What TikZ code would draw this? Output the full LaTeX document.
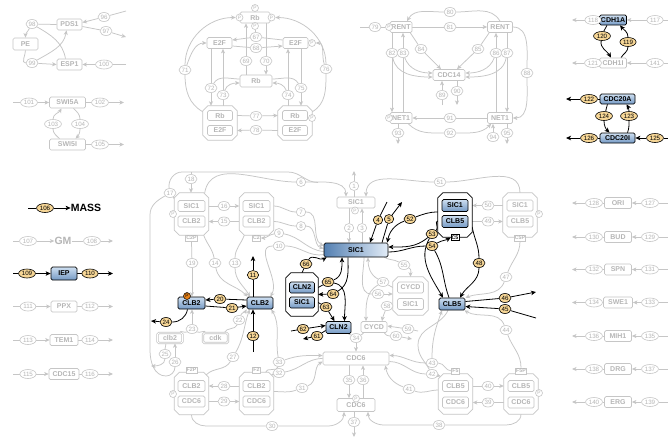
\documentclass[tikz,border=0pt]{standalone}
\usepackage{fontspec}
\setmainfont{Liberation Sans}
\usetikzlibrary{arrows.meta,shapes.geometric,calc}
\definecolor{fade}{RGB}{198,198,198}
\definecolor{fadeT}{RGB}{182,182,182}
\definecolor{yel}{RGB}{246,214,150}
\definecolor{bTop}{RGB}{206,223,241}
\definecolor{bBot}{RGB}{116,153,196}
\definecolor{bDark}{RGB}{84,128,178}
\definecolor{bLight}{RGB}{226,236,247}
\definecolor{orP}{RGB}{230,128,22}
\pgfdeclarelayer{bgw}
\pgfdeclarelayer{bg}
\pgfsetlayers{bgw,bg,main}
\newcommand\myNF{\fontsize{7}{8}\selectfont\bfseries}
\newcommand\myLF{\fontsize{6.2}{6.5}\selectfont}
\newcommand\myPF{\fontsize{4.8}{5}\selectfont}
\newcommand\mySF{\fontsize{5.2}{6}\selectfont\bfseries}
\newcommand\myBF{\fontsize{10.5}{12}\selectfont\bfseries}
\newcommand\gL[3]{\node[gl] (r#1) at (#2,#3) {#1};}
\newcommand\aL[3]{\node[al] (r#1) at (#2,#3) {#1};}
\newcommand\octa[6]{%
  \node[minimum width=#4pt,minimum height=#5pt,inner sep=0pt] (#1) at (#2,#3) {};
  \draw[draw=#6,line width=0.7pt,fill=white]
    ($(#1.north west)+(5pt,0pt)$) -- ($(#1.north east)+(-5pt,0pt)$) --
    ($(#1.north east)+(0pt,-5pt)$) -- ($(#1.south east)+(0pt,5pt)$) --
    ($(#1.south east)+(-5pt,0pt)$) -- ($(#1.south west)+(5pt,0pt)$) --
    ($(#1.south west)+(0pt,5pt)$) -- ($(#1.north west)+(0pt,-5pt)$) -- cycle;}
\tikzset{
  gb/.style={draw=fade,line width=0.7pt,rounded corners=1.5pt,text=fadeT,font=\myNF,inner sep=0pt,minimum height=11pt,fill=white},
  gdbl/.style={gb,double=white,double distance=0.8pt},
  ab/.style={draw=black,line width=0.7pt,rounded corners=1.5pt,top color=bTop,bottom color=bBot,font=\myNF,inner sep=0pt,minimum height=12pt},
  abh/.style={draw=black,line width=0.7pt,rounded corners=1.5pt,left color=bDark,right color=bLight,font=\myNF,inner sep=0pt},
  gl/.style={ellipse,draw=fade,line width=0.6pt,fill=white,text=fadeT,font=\myLF,inner xsep=0.8pt,inner ysep=0.2pt,minimum width=9.5pt,minimum height=9pt},
  al/.style={ellipse,draw=black,line width=0.6pt,fill=yel,font=\myLF,inner xsep=0.8pt,inner ysep=0.2pt,minimum width=9.5pt,minimum height=9pt},
  gp/.style={circle,draw=fade,line width=0.6pt,fill=white,text=fadeT,font=\myPF,inner sep=0pt,minimum size=7pt},
  glab/.style={draw=fade,line width=0.6pt,fill=white,text=fadeT,font=\mySF,inner sep=0.7pt,minimum height=6pt},
  alab/.style={draw=black,line width=0.6pt,fill=white,font=\mySF,inner sep=0.7pt,minimum height=6pt},
  gn/.style={draw=fade,line width=0.75pt},
  ga/.style={gn,-{Stealth[length=4.5pt,width=4pt,inset=1.2pt]}},
  an/.style={draw=black,line width=0.8pt},
  aa/.style={an,-{Stealth[length=5pt,width=4.5pt,inset=1.3pt]}}
}
\begin{document}
\begin{tikzpicture}[x=1pt,y=-1pt]
\begin{pgfonlayer}{bgw}
\fill[white] (0,0) rectangle (668,437);
\end{pgfonlayer}
\useasboundingbox (0,0) rectangle (668,437);

% ================= PE group
\node[gb,minimum width=25pt] (pds1) at (69.5,24.5) {PDS1};
\node[gb,minimum width=25pt,minimum height=12pt] (pe) at (25.5,44) {PE};
\node[gb,minimum width=25pt] (esp1) at (69.5,64.5) {ESP1};
\gL{98}{32}{24} \gL{99}{32}{63} \gL{96}{104}{17} \gL{97}{106}{31} \gL{100}{104}{64.5}
\coordinate (e96) at (126,11);
\coordinate (e97) at (126,37);
\coordinate (e100) at (126,64.5);

% ================= SWI5 group
\node[gb,minimum width=36pt] (swi5a) at (67.5,102.5) {SWI5A};
\node[gb,minimum width=36pt] (swi5i) at (67.5,144.5) {SWI5I};
\gL{101}{29}{102.5} \gL{102}{100}{102.5} \gL{103}{53}{124} \gL{104}{80}{124} \gL{105}{100}{144.5}
\coordinate (e101) at (13,102.5);
\coordinate (e102) at (124,102.5);
\coordinate (e105) at (124,144.5);

% ================= Rb group
\node[gb,minimum width=30pt] (rbt) at (255,17.5) {Rb};
\node[gp] (pRt) at (255,8) {P};
\node[gp] (pRl) at (239.5,17.5) {P};
\node[gp] (pRr) at (271.5,17.5) {P};
\node[gp] (pRb) at (255,26) {P};
\node[gb,minimum width=25pt] (e2fl) at (219.5,43) {E2F};
\node[gb,minimum width=25pt] (e2fr) at (295.5,43) {E2F};
\node[gp] (pE2) at (312,43) {P};
\node[gb,minimum width=32pt,minimum height=12pt] (rbm) at (256,81) {Rb};
\octa{cxl}{220}{123}{34}{34}{fade}
\node[gb,minimum width=25pt,minimum height=10pt] (rbl1) at (220,115.5) {Rb};
\node[gb,minimum width=25pt,minimum height=10pt] (e2fl1) at (220,130.5) {E2F};
\octa{cxr}{295}{123}{34}{34}{fade}
\node[gb,minimum width=25pt,minimum height=10pt] (rbr1) at (295,115.5) {Rb};
\node[gb,minimum width=25pt,minimum height=10pt] (e2fr1) at (295,130.5) {E2F};
\node[gp] (pCx) at (312,118) {P};
\gL{67}{256}{37} \gL{68}{256}{48} \gL{69}{246}{61} \gL{70}{266}{61} \gL{71}{185}{70}
\gL{72}{211}{88} \gL{73}{223}{95} \gL{74}{288}{95} \gL{75}{301}{88} \gL{76}{326}{69}
\gL{77}{256}{116} \gL{78}{256}{130}

% ================= RENT group
\node[gb,minimum width=22pt] (rentl) at (401,27) {RENT};
\node[gp] (pRl2) at (389,27) {P};
\node[gb,minimum width=25pt] (rentr) at (500,27) {RENT};
\node[gb,minimum width=32pt] (cdc14) at (449,75) {CDC14};
\node[gb,minimum width=22pt] (net1l) at (401,118) {NET1};
\node[gp] (pN) at (389,118) {P};
\node[gb,minimum width=25pt] (net1r) at (500,118) {NET1};
\gL{79}{375}{27} \gL{80}{450}{12} \gL{81}{450}{27} \gL{82}{392}{53} \gL{83}{403}{53}
\gL{84}{421}{49} \gL{85}{478}{49} \gL{86}{496}{53} \gL{87}{507}{53} \gL{88}{527}{73}
\gL{89}{442}{95} \gL{90}{457}{91} \gL{91}{450}{118} \gL{92}{450}{133} \gL{93}{398}{133}
\gL{94}{493}{137} \gL{95}{507}{133}
\coordinate (e79) at (360,27);
\coordinate (e89) at (442,105);
\coordinate (e90) at (457,105);
\coordinate (e93) at (398,144);
\coordinate (e95) at (507,144);

% ================= CDH1 / CDC20
\node[ab,minimum width=27pt,minimum height=10pt] (cdh1a) at (613,20) {CDH1A};
\node[gb,minimum width=27pt,minimum height=10pt] (cdh1i) at (613,63) {CDH1I};
\gL{117}{655}{20} \gL{118}{593}{20} \aL{120}{602}{36} \aL{119}{628}{42}
\gL{121}{593}{63} \gL{141}{655}{63}
\node[ab,minimum width=35pt,minimum height=10pt] (cdc20a) at (617.5,99) {CDC20A};
\node[ab,minimum width=35pt,minimum height=10pt] (cdc20i) at (617.5,138) {CDC20I};
\aL{122}{589}{99} \aL{124}{604}{116} \aL{123}{629}{116} \aL{126}{589}{138} \aL{125}{655}{138}
\coordinate (e117) at (668,20);
\coordinate (e118) at (572,20);
\coordinate (e121) at (572,63);
\coordinate (e141) at (668,63);
\coordinate (e122) at (566,99);
\coordinate (e126) at (566,138);
\coordinate (e125) at (668,138);

% ================= left column
\aL{106}{45}{208}
\node[font=\myBF,inner sep=0pt] (mass) at (86,208) {MASS};
\gL{107}{28}{241}
\node[font=\myBF,text=fadeT,inner sep=0pt] (gm) at (63,241) {GM};
\gL{108}{92}{241}
\aL{109}{27}{273.5}
\node[ab,minimum width=26pt,minimum height=13pt] (iep) at (64,273.5) {IEP};
\aL{110}{90}{273.5}
\coordinate (e106) at (28,208);
\coordinate (e107) at (13,241);
\coordinate (e108) at (113,241);
\coordinate (e109) at (13,273.5);
\coordinate (e110) at (113,273.5);
\foreach \nm/\yy/\lbl/\rbl/\ww in {PPX/306.5/111/112/26, TEM1/340/113/114/28, CDC15/374/115/116/30}{
  \node[gb,minimum width=\ww pt] (\nm) at (64,\yy) {\nm};
  \gL{\lbl}{28}{\yy}
  \gL{\rbl}{90}{\yy}
  \coordinate (in\nm) at (13,\yy);
  \coordinate (out\nm) at (113,\yy);
}

% ================= right column
\foreach \nm/\yy/\lbl/\rbl/\ww in {ORI/203/128/127/27, BUD/237/130/129/27, SPN/269.5/132/131/27, SWE1/302.5/134/133/29, MIH1/336/136/135/27, DRG/369/138/137/27, ERG/402/140/139/27}{
  \node[gb,minimum width=\ww pt] (\nm) at (618,\yy) {\nm};
  \gL{\lbl}{594}{\yy}
  \gL{\rbl}{650}{\yy}
  \coordinate (in\nm) at (668,\yy);
  \coordinate (out\nm) at (572,\yy);
}

% ================= centre: complexes and boxes
\octa{cxA}{191.5}{214}{34}{42}{fade}
\node[gb,minimum width=27pt] (sic1A) at (191.5,206) {SIC1};
\node[gb,minimum width=27pt] (clb2A) at (191.5,221.5) {CLB2};
\node[glab] (c2p) at (191.5,238) {C2P};
\node[gp] (pA) at (173,214) {P};
\octa{cxB}{256.5}{214}{34}{42}{fade}
\node[gb,minimum width=27pt] (sic1B) at (256.5,206) {SIC1};
\node[gb,minimum width=27pt] (clb2B) at (256.5,221.5) {CLB2};
\node[glab] (c2) at (256.5,238) {C2};

\node[gb,minimum width=38pt] (sic1g) at (356,202.5) {SIC1};
\node[gp] (pS) at (355,210.5) {P};
\node[abh,minimum width=64pt,minimum height=14pt] (sic1) at (356,250) {SIC1};

\octa{cxC}{455}{215}{34}{44}{black}
\node[ab,minimum width=26pt] (sic1C) at (455,205.5) {SIC1};
\node[ab,minimum width=26pt] (clb5C) at (455,221.5) {CLB5};
\node[alab] (c5) at (455,237.5) {C5};
\octa{cxD}{520}{215}{34}{44}{fade}
\node[gb,minimum width=26pt] (sic1D) at (520,205.5) {SIC1};
\node[gb,minimum width=26pt] (clb5D) at (520,221.5) {CLB5};
\node[glab] (c5p) at (520,238) {C5P};
\node[gp] (pD) at (539,214) {P};

\octa{cxE}{302}{294.5}{32}{43}{black}
\node[ab,minimum width=25pt,minimum height=11pt] (cln2E) at (302,287.5) {CLN2};
\node[ab,minimum width=25pt,minimum height=11pt] (sic1E) at (302,302.5) {SIC1};

\octa{cxF}{410.5}{296}{35}{38}{fade}
\node[gb,minimum width=26pt] (cycdF) at (410.5,287.5) {CYCD};
\node[gb,minimum width=26pt] (sic1F) at (410.5,304) {SIC1};

\node[ab,minimum width=25pt] (cln2) at (338.5,327.5) {CLN2};
\node[gb,minimum width=26pt] (cycd) at (374,327) {CYCD};
\node[ab,minimum width=26pt] (clb5) at (452,304) {CLB5};
\node[ab,minimum width=27pt] (clb2L) at (191.5,303) {CLB2};
\node[circle,fill=orP,draw=black,line width=0.5pt,inner sep=0pt,minimum size=7pt,font=\myPF] (pO) at (187,296) {P};
\node[ab,minimum width=26pt] (clb2R) at (260,303) {CLB2};
\node[gdbl,minimum width=25pt,minimum height=10pt] (clb2g) at (170,338) {clb2};
\node[gdbl,minimum width=25pt,minimum height=10pt] (cdk) at (215.5,338) {cdk};
\node[gb,minimum width=66pt,minimum height=13pt] (cdc6) at (356,358.5) {CDC6};
\node[gb,minimum width=38pt,minimum height=13pt] (cdc6s) at (356,405) {CDC6};
\node[gp] (pC6) at (356,398.5) {P};

\octa{cxG}{191.5}{393.5}{34}{42}{fade}
\node[glab] (f2p) at (191.5,370) {F2P};
\node[gb,minimum width=27pt] (clb2G) at (191.5,386) {CLB2};
\node[gb,minimum width=27pt] (cdc6G) at (191.5,401.5) {CDC6};
\node[gp] (pG) at (173,394) {P};
\octa{cxH}{256.5}{393.5}{34}{42}{fade}
\node[glab] (f2) at (256.5,370) {F2};
\node[gb,minimum width=27pt] (clb2H) at (256.5,386) {CLB2};
\node[gb,minimum width=27pt] (cdc6H) at (256.5,401.5) {CDC6};
\octa{cxI}{455.5}{394}{34}{40}{fade}
\node[glab] (f5) at (455.5,371) {F5};
\node[gb,minimum width=26pt] (clb5I) at (455.5,386) {CLB5};
\node[gb,minimum width=26pt] (cdc6I) at (455.5,402.5) {CDC6};
\octa{cxJ}{521}{394}{34}{40}{fade}
\node[glab] (f5p) at (521,371) {F5P};
\node[gb,minimum width=26pt] (clb5J) at (521,386) {CLB5};
\node[gb,minimum width=26pt] (cdc6J) at (521,402.5) {CDC6};
\node[gp] (pJ) at (539,393) {P};

% ================= centre labels
\gL{1}{354}{186} \gL{2}{349}{228} \gL{3}{362}{228} \aL{4}{378}{220} \aL{5}{389}{219}
\gL{6}{301}{182} \gL{7}{301}{212} \gL{8}{301}{226} \gL{9}{279}{233} \gL{10}{279}{246}
\aL{11}{253}{275} \aL{12}{253}{336} \gL{13}{235}{263} \gL{14}{215}{263} \gL{15}{224}{221.5}
\gL{16}{224}{206} \gL{17}{170}{193} \gL{18}{191}{179} \gL{19}{192}{263} \aL{20}{220}{299}
\aL{21}{232}{308} \gL{22}{239}{320} \gL{23}{192}{329} \aL{24}{166}{322} \gL{25}{165}{354}
\gL{26}{175}{362} \gL{27}{233}{357} \gL{28}{224}{386} \gL{29}{224}{401.5} \gL{30}{272}{426}
\gL{31}{302}{388} \gL{32}{279}{373} \gL{33}{279}{362} \gL{34}{356}{338} \gL{35}{349}{380}
\gL{36}{363}{380} \gL{37}{354}{422} \gL{38}{439}{425} \gL{39}{488}{402.5} \gL{40}{488}{386}
\gL{41}{409}{389} \gL{42}{432}{374} \gL{43}{432}{363} \gL{44}{506}{330} \aL{45}{505}{309}
\aL{46}{505}{298} \gL{47}{506}{277} \aL{48}{479}{263} \gL{49}{488}{221.5} \gL{50}{488}{205.5}
\gL{51}{440}{182} \aL{52}{410}{219} \aL{53}{432}{234} \aL{54}{432}{246} \gL{55}{404}{265}
\gL{56}{378}{294} \gL{57}{383}{282} \gL{58}{387}{306} \gL{59}{408}{329} \gL{60}{396}{336}
\aL{61}{317}{336} \aL{62}{303}{329} \aL{63}{326}{307} \aL{64}{333}{294} \aL{65}{328}{282}
\aL{66}{306}{264}

\coordinate (e1) at (354,171);
\coordinate (e4) at (387,202);
\coordinate (e5) at (402,202);
\coordinate (e11) at (253,256);
\coordinate (e12) at (253,352);
\coordinate (e24) at (151,321);
\coordinate (e25) at (151,366);
\coordinate (e37) at (354,437);
\coordinate (e45) at (536,318);
\coordinate (e46) at (536,292);
\coordinate (e59) at (418,331);
\coordinate (e60) at (412,339);
\coordinate (e61) at (303,339);
\coordinate (e62) at (291,331);
\coordinate (j18) at (191,172);
\coordinate (jTa) at (182,172);
\coordinate (jTb) at (288,172);
\coordinate (jTc) at (318,182.5);
\coordinate (jLa) at (150,215);
\coordinate (jLb) at (150,350);
\coordinate (jLc) at (166,376);
\coordinate (j30a) at (206,426);
\coordinate (j30b) at (328,426);
\coordinate (j38a) at (506,425);
\coordinate (j38b) at (384,425);
\coordinate (j42) at (418,345);

% ================= connectors
\begin{pgfonlayer}{bg}
% PE
\draw[gn] (e96) -- (r96);
\draw[ga] (r96) -- ([yshift=2pt]pds1.east);
\draw[gn] ([yshift=-2pt]pds1.east) -- (r97);
\draw[ga] (r97) -- (e97);
\draw[gn] (e100) -- (r100);
\draw[ga] (r100) -- (esp1.east);
\draw[gn] (pds1.west) -- (r98);
\draw[ga] (r98) to[out=-120,in=90] (pe.north);
\draw[gn] (r98) to[out=-30,in=100] ([xshift=-4pt]esp1.north);
\draw[gn] (pe.south) to[out=-90,in=180] (r99);
\draw[ga] (r99) -- (esp1.west);
\draw[ga] (r99) to[out=30,in=-100] ([xshift=-3pt]pds1.south);
% SWI5
\draw[gn] (e101) -- (r101);
\draw[ga] (r101) -- (swi5a);
\draw[gn] (swi5a) -- (r102);
\draw[ga] (r102) -- (e102);
\draw[gn] (swi5i) -- (r105);
\draw[ga] (r105) -- (e105);
\draw[gn] ([xshift=-8pt]swi5i.north) to[out=135,in=-90] (r103);
\draw[ga] (r103) to[out=90,in=-120] ([xshift=-6pt]swi5a.south);
\draw[gn] ([xshift=6pt]swi5a.south) to[out=-45,in=90] (r104);
\draw[ga] (r104) to[out=-90,in=45] ([xshift=8pt]swi5i.north);
% Rb
\draw[gn] (pRb) -- (r67);
\draw[gn] ([yshift=3pt]e2fr.west) -- (r67);
\draw[ga] (r67) -- ([yshift=3pt]e2fl.east);
\draw[gn] ([yshift=-3pt]e2fl.east) -- (r68);
\draw[ga] (r68) -- ([yshift=-3pt]e2fr.west);
\draw[gn] (r69 |- rbm.north) -- (r69);
\draw[ga] (r69) -- (r69 |- rbt.south);
\draw[gn] (r70 |- rbt.south) -- (r70);
\draw[ga] (r70) -- (r70 |- rbm.north);
\draw[gn] ([yshift=-6pt]cxl.north west) to[out=150,in=-90] (r71);
\draw[ga] (r71) to[out=90,in=180] (pRl);
\draw[ga] (r71) to[out=70,in=180] (e2fl.west);
\draw[gn] ([yshift=-6pt]cxr.north east) to[out=30,in=-90] (r76);
\draw[ga] (r76) to[out=90,in=0] (pRr);
\draw[ga] (r76) to[out=110,in=0] (pE2);
\draw[gn] (r72 |- e2fl.south) -- (r72);
\draw[ga] (r72) -- (r72 |- cxl.north);
\draw[gn] ([yshift=2pt]rbm.west) to[out=180,in=60] (r72);
\draw[gn] (r73 |- cxl.north) -- (r73);
\draw[ga] (r73) -- (r73 |- e2fl.south);
\draw[ga] (r73) to[out=70,in=180] ([yshift=-2pt]rbm.west);
\draw[gn] (r74 |- cxr.north) -- (r74);
\draw[ga] (r74) -- (r74 |- e2fr.south);
\draw[ga] (r74) to[out=110,in=0] ([yshift=-2pt]rbm.east);
\draw[gn] (r75 |- e2fr.south) -- (r75);
\draw[ga] (r75) -- (r75 |- cxr.north);
\draw[gn] ([yshift=2pt]rbm.east) to[out=0,in=120] (r75);
\draw[gn] (cxl.east |- rbl1) -- (r77);
\draw[ga] (r77) -- (cxr.west |- rbr1);
\draw[gn] (cxr.west |- e2fr1) -- (r78);
\draw[ga] (r78) -- (cxl.east |- e2fl1);
% RENT
\draw[gn] (e79) -- (r79) -- (pRl2);
\draw[gn] (rentr.north) to[out=120,in=0] (r80);
\draw[ga] (r80) to[out=180,in=60] ([xshift=6pt]rentl.north);
\draw[gn] (rentl) -- (r81);
\draw[ga] (r81) -- (rentr);
\draw[gn] (r82 |- rentl.south) -- (r82);
\draw[ga] (r82) -- (r82 |- net1l.north);
\draw[ga] (r82) to[out=-80,in=180] ([yshift=-2pt]cdc14.west);
\draw[gn] (r83 |- net1l.north) -- (r83);
\draw[ga] (r83) -- (r83 |- rentl.south);
\draw[ga] (r83) to[out=-70,in=180] ([yshift=2pt]cdc14.west);
\draw[gn] ([xshift=-2pt]rentl.south east) -- (r84);
\draw[ga] (r84) -- ([xshift=-8pt]cdc14.north);
\draw[gn] ([xshift=2pt]rentr.south west) -- (r85);
\draw[ga] (r85) -- ([xshift=8pt]cdc14.north);
\draw[gn] (r86 |- net1r.north) -- (r86);
\draw[ga] (r86) -- (r86 |- rentr.south);
\draw[ga] (r86) to[out=-110,in=0] ([yshift=2pt]cdc14.east);
\draw[gn] (r87 |- rentr.south) -- (r87);
\draw[ga] (r87) -- (r87 |- net1r.north);
\draw[ga] (r87) to[out=-100,in=0] ([yshift=-2pt]cdc14.east);
\draw[gn] (rentr.east) to[out=0,in=90] (r88);
\draw[ga] (r88) to[out=-90,in=0] (net1r.east);
\draw[gn] (e89) -- (r89);
\draw[ga] (r89) -- (r89 |- cdc14.south);
\draw[gn] (r90 |- cdc14.south) -- (r90);
\draw[ga] (r90) -- (e90);
\draw[gn] (net1r) -- (r91);
\draw[ga] (r91) -- (net1l);
\draw[gn] ([xshift=-4pt]net1l.south east) to[out=-45,in=180] (r92);
\draw[ga] (r92) to[out=0,in=-135] ([xshift=4pt]net1r.south west);
\draw[gn] (r93 |- net1l.south) -- (r93);
\draw[ga] (r93) -- (e93);
\draw[ga] (r94) -- (r94 |- net1r.south);
\draw[gn] (r95 |- net1r.south) -- (r95);
\draw[ga] (r95) -- (e95);
% CDH1 / CDC20
\draw[gn] (e117) -- (r117);
\draw[ga] (r117) -- (cdh1a);
\draw[gn] (cdh1a) -- (r118);
\draw[ga] (r118) -- (e118);
\draw[an] ([xshift=-6pt]cdh1a.south) to[out=-120,in=70] (r120);
\draw[aa] (r120) to[out=-100,in=120] ([xshift=-2pt]cdh1i.north);
\draw[an] ([xshift=8pt]cdh1i.north) to[out=60,in=-90] (r119);
\draw[aa] (r119) to[out=90,in=-50] ([xshift=7pt]cdh1a.south);
\draw[gn] (cdh1i) -- (r121);
\draw[ga] (r121) -- (e121);
\draw[gn] (e141) -- (r141);
\draw[ga] (r141) -- (cdh1i);
\draw[an] (cdc20a) -- (r122);
\draw[aa] (r122) -- (e122);
\draw[an] ([xshift=-10pt]cdc20a.south) to[out=-120,in=70] (r124);
\draw[aa] (r124) to[out=-90,in=135] ([xshift=-8pt]cdc20i.north);
\draw[an] ([xshift=10pt]cdc20i.north) to[out=70,in=-90] (r123);
\draw[aa] (r123) to[out=90,in=-60] ([xshift=9pt]cdc20a.south);
\draw[an] (cdc20i) -- (r126);
\draw[aa] (r126) -- (e126);
\draw[an] (e125) -- (r125);
\draw[aa] (r125) -- (cdc20i);
% left column
\draw[an] (e106) -- (r106);
\draw[aa] (r106) -- (mass.west);
\draw[gn] (e107) -- (r107);
\draw[ga] (r107) -- (gm.west);
\draw[gn] (gm.east) -- (r108);
\draw[ga] (r108) -- (e108);
\draw[an] (e109) -- (r109);
\draw[aa] (r109) -- (iep);
\draw[an] (iep) -- (r110);
\draw[aa] (r110) -- (e110);
\foreach \nm/\lbl/\rbl in {PPX/111/112, TEM1/113/114, CDC15/115/116}{
  \draw[gn] (in\nm) -- (r\lbl);
  \draw[ga] (r\lbl) -- (\nm);
  \draw[gn] (\nm) -- (r\rbl);
  \draw[ga] (r\rbl) -- (out\nm);
}
\foreach \nm/\lbl/\rbl in {ORI/128/127, BUD/130/129, SPN/132/131, SWE1/134/133, MIH1/136/135, DRG/138/137, ERG/140/139}{
  \draw[gn] (in\nm) -- (r\rbl);
  \draw[ga] (r\rbl) -- (\nm);
  \draw[gn] (\nm) -- (r\lbl);
  \draw[ga] (r\lbl) -- (out\nm);
}
% centre gray
\draw[gn] (r1 |- sic1g.north) -- (r1);
\draw[ga] (r1) -- (e1);
\draw[gn] (r2 |- sic1g.south) -- (r2);
\draw[ga] (r2) -- (r2 |- sic1.north);
\draw[gn] (r3 |- sic1.north) -- (r3);
\draw[ga] (r3) -- (r3 |- sic1g.south);
\draw[gn] ([xshift=-4pt]cxA.north east) to[out=80,in=180] (r6);
\draw[ga] (r6) to[out=0,in=90] ([xshift=-10pt]sic1g.north);
\draw[gn] (r17) to[out=100,in=180] (jTa) -- (jTb) to[out=0,in=180] (jTc);
\draw[gn] (j18) -- (r18);
\draw[ga] (r18) -- (r18 |- cxA.north);
\draw[gn] ([yshift=-6pt]cxA.north west) -- (r17);
\draw[gn] (r17) to[out=-150,in=90] (jLa) -- (jLb) to[out=-90,in=180] (jLc) to[out=0,in=-90] (r26);
\draw[ga] (r26) -- ([xshift=5pt]clb2g.south);
\draw[gn] ([xshift=-4pt]clb2g.south) to[out=-90,in=90] (r25);
\draw[ga] (r25) to[out=-90,in=0] (e25);
\draw[gn] (cxA.east |- sic1A) -- (r16);
\draw[ga] (r16) -- (cxB.west |- sic1B);
\draw[gn] (cxB.west |- clb2B) -- (r15);
\draw[ga] (r15) -- (cxA.east |- clb2A);
\draw[gn] (c2p.south) -- (r19);
\draw[ga] (r19) -- (r19 |- clb2L.north);
\draw[gn] ([xshift=-5pt]cxA.south east) to[out=-70,in=100] (r14);
\draw[ga] (r14) to[out=-80,in=135] ([xshift=1pt]clb2R.north west);
\draw[gn] ([xshift=5pt]cxB.south west) to[out=-110,in=90] (r13);
\draw[ga] (r13) to[out=-90,in=120] ([xshift=-10pt]clb2R.north);
\draw[gn] (cxB.east |- sic1B) to[out=0,in=180] (r7);
\draw[ga] (r7) to[out=0,in=150] ([yshift=4pt]sic1.west);
\draw[gn] (cxB.east |- clb2B) to[out=0,in=180] (r8);
\draw[ga] (r8) to[out=0,in=165] ([yshift=1.5pt]sic1.west);
\draw[gn] ([yshift=-1.5pt]sic1.west) to[out=175,in=-10] (r9);
\draw[ga] (r9) to[out=190,in=0] (c2.east);
\draw[gn] ([yshift=-4.5pt]sic1.west) to[out=190,in=0] (r10);
\draw[ga] (r10) to[out=180,in=60] ([xshift=-3pt]clb2R.north east);
\draw[gn] ([xshift=-4pt]cdk.north east) to[out=70,in=-110] (r22);
\draw[ga] (r22) to[out=70,in=-120] (clb2R.south west);
\draw[gn] ([xshift=-3pt]clb2g.north east) to[out=80,in=-150] (r23);
\draw[gn] ([xshift=3pt]cdk.north west) to[out=100,in=-30] (r23);
\draw[ga] (r23) -- (r23 |- clb2L.south);
\draw[gn] ([xshift=-2.5pt,yshift=-2.5pt]cxG.north east) to[out=45,in=-120] (r27);
\draw[ga] (r27) to[out=60,in=-110] ([xshift=3pt]clb2R.south west);
\draw[gn] (cxH.west |- clb2H) -- (r28);
\draw[ga] (r28) -- (cxG.east |- clb2G);
\draw[gn] (cxG.east |- cdc6G) -- (r29);
\draw[ga] (r29) -- (cxH.west |- cdc6H);
\draw[gn] (cxG.south) to[out=-90,in=180] (j30a) -- (r30);
\draw[ga] (r30) -- (j30b) to[out=0,in=-90] ([xshift=-12pt]cdc6s.south);
\draw[gn] ([yshift=2pt]cxH.east) to[out=0,in=-160] (r31);
\draw[ga] (r31) to[out=20,in=-150] ([yshift=-3pt]cdc6.west);
\draw[gn] (cdc6.west) to[out=180,in=10] (r32);
\draw[ga] (r32) -- ([xshift=-2.5pt,yshift=-2.5pt]cxH.north east);
\draw[gn] ([xshift=9pt]cxH.north) to[out=80,in=-100] (r33);
\draw[ga] (r33) to[out=20,in=180] ([yshift=3pt]cdc6.west);
\draw[ga] (r33) to[out=100,in=-60] ([xshift=-2pt]clb2R.south east);
\draw[gn] ([xshift=-3pt]cln2.south east) to[out=-60,in=150] (r34);
\draw[gn] ([xshift=3pt]cycd.south west) to[out=-120,in=30] (r34);
\draw[ga] (r34) -- (r34 |- cdc6.north);
\draw[gn] (r35 |- cdc6.south) -- (r35);
\draw[ga] (r35) -- (r35 |- cdc6s.north);
\draw[gn] (r36 |- cdc6s.north) -- (r36);
\draw[ga] (r36) -- (r36 |- cdc6.south);
\draw[gn] (r37 |- cdc6s.south) -- (r37);
\draw[ga] (r37) -- (e37);
\draw[gn] (cxJ.south) to[out=-90,in=0] (j38a) -- (r38);
\draw[ga] (r38) -- (j38b) to[out=180,in=-90] ([xshift=12pt]cdc6s.south);
\draw[gn] (cxJ.west |- cdc6J) -- (r39);
\draw[ga] (r39) -- (cxI.east |- cdc6I);
\draw[gn] (cxI.east |- clb5I) -- (r40);
\draw[ga] (r40) -- (cxJ.west |- clb5J);
\draw[gn] ([yshift=4pt]cxI.west) to[out=180,in=-20] (r41);
\draw[ga] (r41) to[out=160,in=-80] ([xshift=-4pt]cdc6.south east);
\draw[gn] ([yshift=-3pt]cdc6.east) to[out=0,in=180] (r42);
\draw[gn] ([xshift=-4pt]clb5.south) to[out=-115,in=90] (j42) to[out=-90,in=120] (r42);
\draw[ga] (r42) -- ([xshift=2.5pt,yshift=-2.5pt]cxI.north west);
\draw[gn] (f5.west) to[out=180,in=0] (r43);
\draw[ga] (r43) to[out=180,in=0] ([yshift=3pt]cdc6.east);
\draw[ga] (r43) to[out=90,in=-110] ([xshift=-10pt]clb5.south);
\draw[gn] (f5p.north) to[out=90,in=-70] (r44);
\draw[ga] (r44) to[out=110,in=-30] ([xshift=-1pt]clb5.south east);
\draw[gn] (c5p.south) to[out=-90,in=70] (r47);
\draw[ga] (r47) to[out=-110,in=20] (clb5.north east);
\draw[gn] (cxC.east |- clb5C) -- (r49);
\draw[ga] (r49) -- (cxD.west |- clb5D);
\draw[gn] (cxD.west |- sic1D) -- (r50);
\draw[ga] (r50) -- (cxC.east |- sic1C);
\draw[gn] (cxD.north) to[out=90,in=0] (r51);
\draw[ga] (r51) to[out=180,in=90] ([xshift=10pt]sic1g.north);
\draw[gn] ([xshift=-4pt]sic1.south east) to[out=-30,in=150] (r55);
\draw[ga] (r55) to[out=-30,in=90] (cxF.north);
\draw[gn] ([xshift=8pt]sic1.south) to[out=-90,in=180] (r56);
\draw[ga] (r56) -- (cxF.west |- r56);
\draw[gn] (cxF.west |- cycdF) -- (r57);
\draw[ga] (r57) to[out=150,in=-90] ([xshift=12pt]sic1.south);
\draw[ga] (r57) to[out=-150,in=90] ([xshift=-8pt]cycd.north);
\draw[gn] (cxF.west |- sic1F) -- (r58);
\draw[ga] (r58) to[out=-110,in=80] ([xshift=8pt]cycd.north);
\draw[gn] (e59) -- (r59);
\draw[ga] (r59) -- ([yshift=1pt]cycd.east);
\draw[gn] ([xshift=-3pt]cycd.south east) to[out=-60,in=180] (r60);
\draw[ga] (r60) -- (e60);
% centre black
\draw[an] (e4) -- (r4);
\draw[aa] (r4) -- ([xshift=14pt]sic1.north);
\draw[an] ([xshift=26pt]sic1.north) -- (r5);
\draw[aa] (r5) -- (e5);
\draw[an] (r11 |- clb2R.north) -- (r11);
\draw[aa] (r11) -- (e11);
\draw[an] (e12) -- (r12);
\draw[aa] (r12) -- (r12 |- clb2R.south);
\draw[an] ([yshift=3pt]clb2R.west) -- (r20);
\draw[aa] (r20) -- ([yshift=3pt]clb2L.east);
\draw[an] ([yshift=-3pt]clb2L.east) -- (r21);
\draw[aa] (r21) -- ([yshift=-3pt]clb2R.west);
\draw[an] ([xshift=-4pt]clb2L.south) to[out=-100,in=0] (r24);
\draw[aa] (r24) -- (e24);
\draw[an] ([yshift=-12pt]cxC.east) to[out=-80,in=90] (r48);
\draw[aa] (r48) to[out=-90,in=60] ([xshift=8pt]clb5.north);
\draw[an] ([yshift=2.5pt]clb5.east) -- (r46);
\draw[aa] (r46) -- (e46);
\draw[an] (e45) -- (r45);
\draw[aa] (r45) -- ([yshift=-2.5pt]clb5.east);
\draw[an] ([yshift=3pt]cxC.west) to[out=180,in=20] (r52);
\draw[aa] (r52) to[out=-160,in=80] ([xshift=-1pt]sic1.north east);
\draw[an] ([yshift=-6pt]cxC.west) to[out=180,in=40] (r53);
\draw[aa] (r53) to[out=-140,in=0] ([yshift=3pt]sic1.east);
\draw[aa] (r53) to[out=-120,in=120] ([xshift=-9pt]clb5.north);
\draw[an] ([yshift=-2pt]sic1.east) to[out=0,in=180] (r54);
\draw[an] ([xshift=-3pt]clb5.north) to[out=110,in=-60] (r54);
\draw[aa] (r54) to[out=30,in=-150] (c5.west);
\draw[an] (cxE.north) -- (r66);
\draw[aa] (r66) to[out=60,in=-150] ([xshift=3pt]sic1.south west);
\draw[an] (cxE.east |- cln2E) -- (r65);
\draw[aa] (r65) to[out=20,in=-90] ([xshift=-14pt]sic1.south);
\draw[aa] (r65) to[out=-10,in=90] ([xshift=6pt]cln2.north);
\draw[an] ([xshift=-8pt]sic1.south) to[out=-90,in=30] (r64);
\draw[aa] (r64) -- (cxE.east);
\draw[an] ([yshift=-8pt]cxE.east) -- (r63);
\draw[aa] (r63) to[out=-60,in=120] ([xshift=-4pt]cln2.north);
\draw[an] (e62) -- (r62);
\draw[aa] (r62) -- ([yshift=2pt]cln2.west);
\draw[an] ([yshift=-3pt]cln2.west) -- (r61);
\draw[aa] (r61) -- (e61);
\end{pgfonlayer}
\end{tikzpicture}
\end{document}
